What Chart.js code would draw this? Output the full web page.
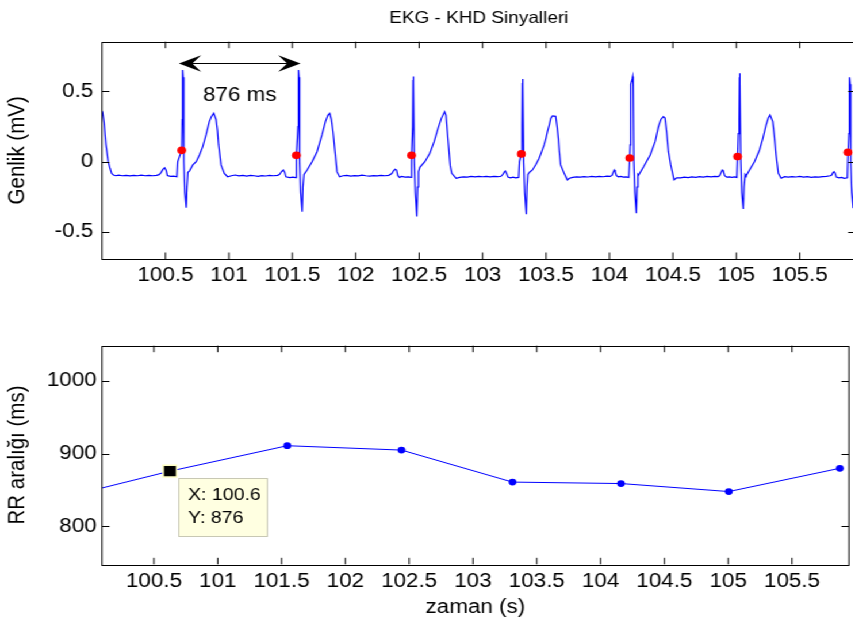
<!DOCTYPE html>
<html>
<head>
<meta charset="utf-8">
<script src="https://cdn.jsdelivr.net/npm/chart.js@4.4.0/dist/chart.umd.min.js"></script>
<style>
  html, body { margin: 0; padding: 0; overflow: hidden; background: #fff; }
  /* the figure is a little wider than tall in the reference, so stretch it */
  #wrap { position: absolute; left: 0; top: 0; width: 748px; height: 622px; transform: scaleX(1.15); transform-origin: 0 0; }
  canvas { display: block; }
</style>
</head>
<body>
<div id="wrap">
  <canvas id="ekg" width="748" height="300"></canvas>
  <canvas id="rr" width="748" height="322"></canvas>
</div>
<script>
// ECG trace, [time s, amplitude mV]
const ekgStart = [
  [100.000,0.36],[100.005,0.35],[100.016,0.28],[100.024,0.19],[100.031,0.12],[100.042,0.05],[100.049,0.0],[100.063,-0.047],[100.076,-0.083],[100.09,-0.095]
];
const beat1 = [
  [100.11,-0.1],[100.13,-0.096],[100.16,-0.1],[100.19,-0.097],[100.22,-0.101],[100.25,-0.098],[100.28,-0.1],[100.31,-0.096],[100.34,-0.1],[100.37,-0.098],[100.40,-0.1],[100.43,-0.097],[100.45,-0.092],
  [100.465,-0.078],[100.48,-0.055],[100.494,-0.043],[100.505,-0.06],[100.515,-0.098],[100.54,-0.105],[100.565,-0.103],[100.59,-0.107],
  [100.597,0.0],[100.612,0.04],[100.628,0.081],[100.632,0.3],[100.635,0.652],[100.639,0.6],[100.645,0.0],[100.653,-0.22],[100.664,-0.327],[100.67,-0.18],[100.677,-0.075],
  [100.69,-0.065],[100.716,-0.023],[100.742,0.0],[100.768,0.048],[100.794,0.107],[100.82,0.19],[100.846,0.285],[100.862,0.32],[100.88,0.344],[100.899,0.3],[100.91,0.22],[100.919,0.119],[100.938,-0.023],[100.964,-0.083],[100.99,-0.107]
];
const beat2 = [
  [101.02,-0.1],[101.05,-0.095],[101.08,-0.101],[101.11,-0.098],[101.14,-0.102],[101.17,-0.097],[101.2,-0.1],[101.23,-0.104],[101.26,-0.099],[101.29,-0.102],[101.32,-0.098],[101.35,-0.1],[101.385,-0.097],
  [101.40,-0.09],[101.415,-0.07],[101.429,-0.059],[101.44,-0.075],[101.45,-0.108],[101.48,-0.113],[101.505,-0.11],[101.527,-0.114],
  [101.532,0.045],[101.545,0.25],[101.548,0.62],[101.549,0.652],[101.553,0.6],[101.558,0.0],[101.566,-0.22],[101.578,-0.356],[101.584,-0.18],[101.592,-0.09],
  [101.617,-0.059],[101.656,0.0],[101.695,0.071],[101.734,0.19],[101.761,0.285],[101.78,0.33],[101.795,0.344],[101.808,0.3],[101.821,0.213],[101.839,0.048],[101.852,-0.071],[101.873,-0.107]
];
const beat3 = [
  [101.9,-0.1],[101.93,-0.097],[101.96,-0.102],[101.99,-0.099],[102.02,-0.101],[102.05,-0.096],[102.08,-0.1],[102.11,-0.103],[102.14,-0.099],[102.17,-0.101],[102.2,-0.098],[102.23,-0.1],[102.26,-0.097],
  [102.285,-0.085],[102.298,-0.065],[102.31,-0.054],[102.322,-0.06],[102.332,-0.1],[102.345,-0.112],[102.36,-0.105],[102.39,-0.11],[102.415,-0.108],[102.435,-0.112],
  [102.44,0.045],[102.449,0.25],[102.452,0.58],[102.453,0.605],[102.457,0.56],[102.462,0.0],[102.47,-0.22],[102.482,-0.39],[102.488,-0.18],[102.495,-0.07],
  [102.505,-0.04],[102.545,0.0],[102.584,0.06],[102.618,0.142],[102.649,0.237],[102.675,0.308],[102.701,0.356],[102.712,0.33],[102.722,0.22],[102.733,0.1],[102.745,-0.03],[102.757,-0.083],[102.792,-0.118]
];
const beat4 = [
  [102.82,-0.112],[102.85,-0.108],[102.88,-0.11],[102.91,-0.105],[102.94,-0.108],[102.97,-0.104],[103.0,-0.107],[103.03,-0.104],[103.06,-0.108],[103.09,-0.105],[103.12,-0.107],[103.145,-0.104],
  [103.16,-0.09],[103.172,-0.072],[103.18,-0.066],[103.19,-0.085],[103.2,-0.11],[103.22,-0.115],[103.24,-0.11],[103.26,-0.115],[103.284,-0.112],
  [103.29,0.0],[103.306,0.055],[103.311,0.25],[103.314,0.56],[103.315,0.588],[103.319,0.54],[103.324,0.0],[103.332,-0.22],[103.344,-0.374],[103.35,-0.18],[103.357,-0.09],
  [103.37,-0.075],[103.393,-0.059],[103.42,-0.02],[103.446,0.024],[103.465,0.07],[103.485,0.119],[103.5,0.17],[103.511,0.213],[103.525,0.26],[103.537,0.308],[103.55,0.325],[103.576,0.322],[103.587,0.25],[103.597,0.166],[103.605,0.07],[103.615,-0.023],[103.642,-0.08],[103.668,-0.13],[103.685,-0.118]
];
const beat5 = [
  [103.71,-0.112],[103.74,-0.108],[103.77,-0.11],[103.8,-0.106],[103.83,-0.109],[103.86,-0.105],[103.89,-0.108],[103.92,-0.104],[103.95,-0.107],[103.98,-0.103],[104.005,-0.105],[104.02,-0.098],
  [104.03,-0.075],[104.038,-0.059],[104.045,-0.07],[104.055,-0.1],[104.07,-0.108],[104.09,-0.105],[104.11,-0.11],[104.13,-0.108],[104.152,-0.112],
  [104.16,0.026],[104.164,0.12],[104.168,0.55],[104.18,0.59],[104.183,0.605],[104.187,0.56],[104.192,0.0],[104.2,-0.22],[104.212,-0.367],[104.218,-0.18],[104.225,-0.09],
  [104.23,-0.095],[104.269,-0.036],[104.321,0.048],[104.36,0.142],[104.386,0.249],[104.405,0.3],[104.425,0.32],[104.438,0.31],[104.452,0.2],[104.465,0.071],[104.483,-0.023],[104.509,-0.13],[104.53,-0.115]
];
const beat6 = [
  [104.56,-0.115],[104.59,-0.11],[104.62,-0.113],[104.65,-0.108],[104.68,-0.112],[104.71,-0.107],[104.74,-0.11],[104.77,-0.105],[104.8,-0.108],[104.83,-0.104],[104.855,-0.106],[104.868,-0.1],
  [104.878,-0.08],[104.89,-0.059],[104.898,-0.065],[104.908,-0.1],[104.925,-0.11],[104.945,-0.108],[104.965,-0.112],[104.985,-0.108],[105.004,-0.112],
  [105.01,0.036],[105.016,0.2],[105.022,0.3],[105.025,0.6],[105.026,0.629],[105.03,0.58],[105.035,0.0],[105.043,-0.22],[105.055,-0.337],[105.061,-0.18],[105.07,-0.09],
  [105.078,-0.1],[105.104,-0.059],[105.143,0.0],[105.183,0.083],[105.209,0.166],[105.235,0.261],[105.252,0.31],[105.266,0.332],[105.287,0.285],[105.3,0.18],[105.313,0.048],[105.331,-0.083],[105.353,-0.118]
];
const beat7 = [
  [105.38,-0.107],[105.41,-0.11],[105.44,-0.106],[105.47,-0.109],[105.5,-0.105],[105.53,-0.11],[105.56,-0.107],[105.59,-0.112],[105.62,-0.108],[105.65,-0.11],[105.68,-0.106],[105.71,-0.104],[105.74,-0.1],[105.752,-0.095],
  [105.76,-0.08],[105.77,-0.071],[105.778,-0.08],[105.788,-0.11],[105.81,-0.115],[105.83,-0.112],[105.85,-0.118],[105.875,-0.115],
  [105.88,0.067],[105.887,0.2],[105.89,0.55],[105.893,0.6],[105.897,0.55],[105.902,0.0],[105.91,-0.22],[105.921,-0.33],[105.927,-0.18],[105.935,-0.08]
];

// detected beats (red dots)
const peakTime  = [100.628, 101.532, 102.44, 103.306, 104.16, 105.01, 105.88];
const peakValue = [0.081, 0.045, 0.045, 0.055, 0.026, 0.036, 0.067];

// RR intervals (ms) at each beat
const rrTime  = [99.75, 100.625, 101.545, 102.44, 103.31, 104.16, 105.005, 105.875];
const rrValue = [838, 876, 911, 905, 861, 859, 848, 880];

// axis limits and ticks
const ekgXRange = [100.0, 105.94];
const ekgYRange = [-0.692, 0.853];
const rrXRange  = [100.093, 105.946];
const rrYRange  = [748, 1048.5];
const timeTicks = [100.5, 101, 101.5, 102, 102.5, 103, 103.5, 104, 104.5, 105, 105.5];
const ekgTicks  = [-0.5, 0, 0.5];
const rrTicks   = [800, 900, 1000];

// annotations
const arrowFrom = 100.606, arrowTo = 101.565, arrowY = 0.704;
const arrowText = '876 ms', arrowTextY = 0.468;
const tipX = 100.625, tipY = 876;

const FONT = '"Liberation Sans", Arial, Helvetica, sans-serif';
Chart.defaults.font.family = FONT;
Chart.defaults.font.size = 19.5;
Chart.defaults.color = '#000';

const TICK = 6.5;

// MATLAB-like box with inward tick marks
const frame = {
  id: 'frame',
  afterDatasetsDraw(chart) {
    const { ctx, chartArea: a, scales: { x, y } } = chart;
    ctx.save();
    ctx.strokeStyle = '#000';
    ctx.lineWidth = 1;
    ctx.beginPath();
    x.ticks.forEach(t => {
      const px = x.getPixelForValue(t.value);
      ctx.moveTo(px, a.bottom); ctx.lineTo(px, a.bottom - TICK);
      ctx.moveTo(px, a.top); ctx.lineTo(px, a.top + TICK);
    });
    y.ticks.forEach(t => {
      const py = Math.round(y.getPixelForValue(t.value)) + 0.5;
      ctx.moveTo(a.left, py); ctx.lineTo(a.left + TICK, py);
      ctx.moveTo(a.right, py); ctx.lineTo(a.right - TICK, py);
    });
    ctx.stroke();
    ctx.strokeRect(a.left, Math.round(a.top) + 0.5, a.right - a.left, Math.round(a.bottom - a.top));
    ctx.restore();
  }
};

function arrowHead(ctx, x, y, dir) {
  const L = 19.4, W = 8.3;
  ctx.beginPath();
  ctx.moveTo(x, y);
  ctx.lineTo(x + dir * L, y - W);
  ctx.lineTo(x + dir * L * 0.6, y);
  ctx.lineTo(x + dir * L, y + W);
  ctx.closePath();
  ctx.fill();
}

const arrow = {
  id: 'arrow',
  afterDatasetsDraw(chart) {
    const { ctx, scales: { x, y } } = chart;
    const x1 = x.getPixelForValue(arrowFrom), x2 = x.getPixelForValue(arrowTo);
    const ay = Math.round(y.getPixelForValue(arrowY)) + 0.5;
    ctx.save();
    ctx.strokeStyle = '#000';
    ctx.fillStyle = '#000';
    ctx.lineWidth = 1;
    ctx.beginPath();
    ctx.moveTo(x1 + 8, ay); ctx.lineTo(x2 - 8, ay);
    ctx.stroke();
    arrowHead(ctx, x1, ay, 1);
    arrowHead(ctx, x2, ay, -1);
    ctx.font = '19.5px ' + FONT;
    ctx.textAlign = 'center';
    ctx.textBaseline = 'middle';
    ctx.fillText(arrowText, (x1 + x2) / 2, y.getPixelForValue(arrowTextY));
    ctx.restore();
  }
};

// data tip box next to the selected RR point
const datatip = {
  id: 'datatip',
  afterDatasetsDraw(chart) {
    const { ctx, scales: { x, y } } = chart;
    const bx = Math.round(x.getPixelForValue(tipX) + 7.4) + 0.5;
    const by = Math.round(y.getPixelForValue(tipY) + 7) + 0.5;
    ctx.save();
    ctx.fillStyle = '#ffffe1';
    ctx.strokeStyle = '#c8c8b4';
    ctx.lineWidth = 1;
    ctx.fillRect(bx, by, 77, 58);
    ctx.strokeRect(bx, by, 77, 58);
    ctx.fillStyle = '#000';
    ctx.font = '17px ' + FONT;
    ctx.textAlign = 'left';
    ctx.textBaseline = 'middle';
    ctx.fillText('X: ' + tipX.toFixed(1), bx + 8, by + 17.3);
    ctx.fillText('Y: ' + Math.round(tipY), bx + 8, by + 39.8);
    ctx.restore();
  }
};

const toXY = arr => arr.map(([x, y]) => ({ x, y }));
const ekgData = toXY([].concat(ekgStart, beat1, beat2, beat3, beat4, beat5, beat6, beat7));
const peakData = peakTime.map((t, i) => ({ x: t, y: peakValue[i] }));
const rrData = rrTime.map((t, i) => ({ x: t, y: rrValue[i] }));

function timeAxis(range, height, pad) {
  return {
    type: 'linear', min: range[0], max: range[1],
    afterBuildTicks: s => { s.ticks = timeTicks.map(v => ({ value: v })); },
    afterFit: s => { s.height = height; },
    grid: { display: false, drawTicks: false }, border: { display: false },
    ticks: { padding: pad, maxRotation: 0, autoSkip: false, callback: v => String(v) }
  };
}
function valueAxis(range, ticks, title, pad) {
  return {
    type: 'linear', min: range[0], max: range[1],
    afterBuildTicks: s => { s.ticks = ticks.map(v => ({ value: v })); },
    afterFit: s => { s.width = 88.7; },
    grid: { display: false, drawTicks: false }, border: { display: false },
    ticks: { padding: pad, callback: v => String(v) },
    title: { display: true, text: title, font: { size: 20.5 }, padding: { top: 2.8, bottom: 0 } }
  };
}

new Chart(document.getElementById('ekg'), {
  type: 'line',
  data: {
    datasets: [
      { label: 'R', data: peakData, showLine: false, pointRadius: 3.85, pointBackgroundColor: '#ff0000', pointBorderWidth: 0, order: 0 },
      { label: 'EKG', data: ekgData, borderColor: '#0000ff', borderWidth: 1.2, pointRadius: 0, clip: 0, order: 1 }
    ]
  },
  options: {
    responsive: false, animation: false, devicePixelRatio: 1,
    layout: { padding: 0 },
    plugins: {
      legend: { display: false }, tooltip: { enabled: false },
      title: { display: true, text: 'EKG - KHD Sinyalleri', fullSize: false, font: { size: 16.5, weight: 'normal' }, color: '#000', padding: { top: 8.1, bottom: 13.8 } }
    },
    scales: {
      x: timeAxis(ekgXRange, 41, 5.2),
      y: valueAxis(ekgYRange, ekgTicks, 'Genlik (mV)', 7.5)
    }
  },
  plugins: [frame, arrow]
});

new Chart(document.getElementById('rr'), {
  type: 'line',
  data: {
    datasets: [
      { label: 'tip', data: [{ x: tipX, y: tipY }], showLine: false, pointStyle: 'rect', pointRadius: 8.3, pointBackgroundColor: '#000', pointBorderColor: '#ffffc4', pointBorderWidth: 1.5, order: 0 },
      { label: 'RR', data: rrData, borderColor: '#0000ff', borderWidth: 1, pointRadius: 3.4, pointBackgroundColor: '#0000ff', pointBorderWidth: 0, clip: 0, order: 1 }
    ]
  },
  options: {
    responsive: false, animation: false, devicePixelRatio: 1,
    layout: { padding: { top: 45.7 } },
    plugins: { legend: { display: false }, tooltip: { enabled: false } },
    scales: {
      x: Object.assign(timeAxis(rrXRange, 57.7, 5.5), { title: { display: true, text: 'zaman (s)', padding: { top: 0, bottom: 2.4 } } }),
      y: valueAxis(rrYRange, rrTicks, 'RR aralığı (ms)', 4.6)
    }
  },
  plugins: [frame, datatip]
});
</script>
</body>
</html>
